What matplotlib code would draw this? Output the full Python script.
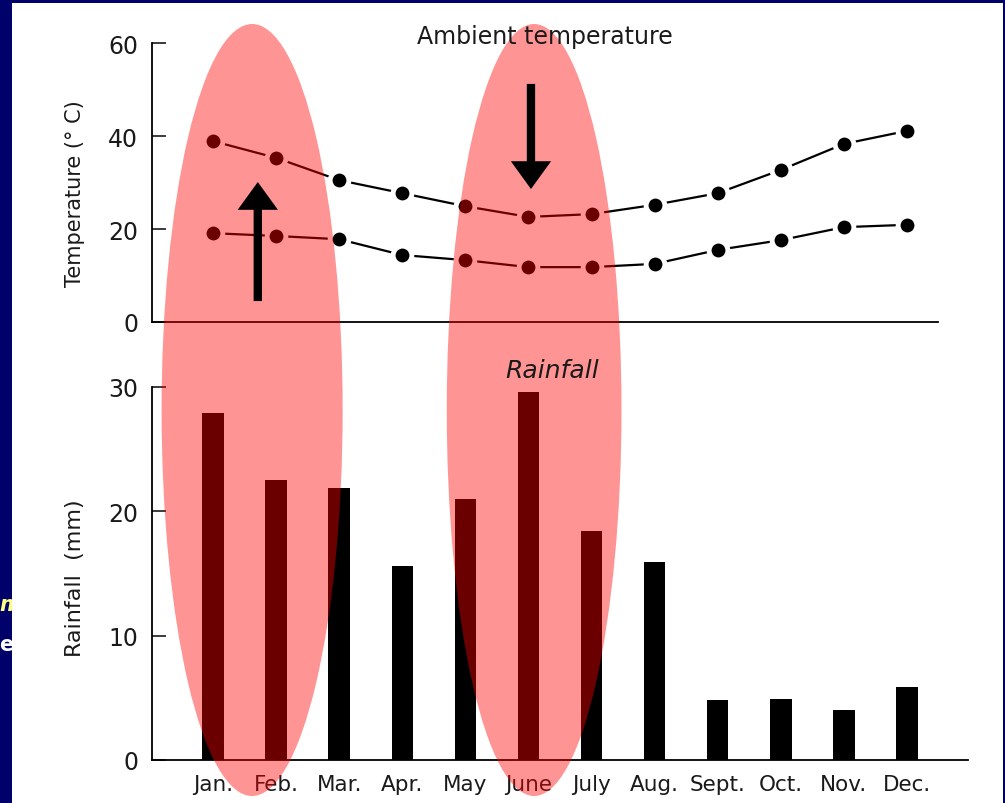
import numpy as np
import matplotlib
matplotlib.use('Agg')
import matplotlib.pyplot as plt
import matplotlib.transforms as mtransforms
from matplotlib.patches import Ellipse, Rectangle, FancyArrowPatch, ArrowStyle

# Data
months = ['Jan.', 'Feb.', 'Mar.', 'Apr.', 'May', 'June', 'July',
          'Aug.', 'Sept.', 'Oct.', 'Nov.', 'Dec.']
temp_max = [38.9, 35.3, 30.5, 27.7, 24.9, 22.6, 23.2, 25.2, 27.7, 32.7, 38.3, 41.1]
temp_min = [19.1, 18.5, 17.8, 14.4, 13.3, 11.8, 11.8, 12.5, 15.5, 17.6, 20.4, 20.9]
rainfall = [27.9, 22.5, 21.9, 15.6, 21.0, 29.6, 18.4, 15.9, 4.8, 4.9, 4.0, 5.9]
temp_ticks = [0, 20, 40, 60]
rain_ticks = [0, 10, 20, 30]

# highlighted months (ellipse centre in month units, width in month units)
highlights = [(0.62, 2.87), (5.09, 2.77)]
# arrows: x (month units), start temp, end temp
arrows = [(0.71, 4.5, 30.1), (5.04, 51.2, 28.6)]

W, H = 1005, 804
NAVY = '#00006b'
INK = '#1a1a1a'
plt.rcParams['font.family'] = 'DejaVu Sans'

fig = plt.figure(figsize=(W / 100, H / 100), dpi=100, facecolor=NAVY)

# white slide area
fig.add_artist(Rectangle((12 / W, 0), (1003 - 12) / W, (H - 4) / H,
                         transform=fig.transFigure, facecolor='white',
                         edgecolor='none', zorder=-1))
# cut-off slide text on the left edge
fig.text(21 / W, 1 - 605 / H, 'm', color='#ffff80', fontsize=15, fontweight='bold',
         style='italic', ha='right', va='center', zorder=-2)
fig.text(23 / W, 1 - 645 / H, 'e)', color='white', fontsize=15, fontweight='bold',
         ha='right', va='center', zorder=-2)

x = np.arange(len(months))
x_left = (152 - 213) / 63.09

# Temperature panel
ax_t = fig.add_axes([152 / W, 1 - 323 / H, (938 - 152) / W, (323 - 44) / H])
ax_t.set_facecolor('none')
for tmp in (temp_max, temp_min):
    ax_t.plot(x, tmp, '-', color='black', lw=1.6, marker='o', markersize=13.5,
              markerfacecolor='black', markeredgecolor='white', markeredgewidth=3.5,
              clip_on=False, zorder=3)
ax_t.set_xlim(x_left, (938 - 213) / 63.09)
ax_t.set_ylim(0, 60)
ax_t.set_yticks(temp_ticks)
ax_t.set_xticks([])
ax_t.spines['top'].set_visible(False)
ax_t.spines['right'].set_visible(False)
ax_t.spines['left'].set_linewidth(1.3)
ax_t.spines['bottom'].set_linewidth(1.3)
ax_t.tick_params(axis='y', direction='in', length=10, width=1.2, pad=10,
                 labelsize=17, colors=INK)

# Rainfall panel
ax_r = fig.add_axes([152 / W, 1 - 761 / H, (968 - 152) / W, (761 - 388) / H])
ax_r.set_facecolor('none')
ax_r.bar(x, rainfall, width=0.34, color='black', zorder=3)
ax_r.set_xlim(x_left, (968 - 213) / 63.09)
ax_r.set_ylim(0, 30)
ax_r.set_yticks(rain_ticks)
ax_r.set_xticks(x)
ax_r.set_xticklabels(months)
ax_r.spines['top'].set_visible(False)
ax_r.spines['right'].set_visible(False)
ax_r.spines['left'].set_linewidth(1.3)
ax_r.spines['bottom'].set_linewidth(1.3)
ax_r.tick_params(axis='y', direction='in', length=10, width=1.2, pad=10,
                 labelsize=17, colors=INK)
ax_r.tick_params(axis='x', length=0, pad=10, labelsize=15.5, colors=INK)

# titles and axis labels
fig.text(545 / W, 1 - 37 / H, 'Ambient temperature', fontsize=17, ha='center',
         va='center', color=INK)
fig.text(552 / W, 1 - 371 / H, 'Rainfall', fontsize=18, style='italic',
         ha='center', va='center', color=INK)
fig.text(75 / W, 1 - 194 / H, 'Temperature (° C)', fontsize=15, rotation=90,
         ha='center', va='center', color=INK)
fig.text(75 / W, 1 - 578 / H, 'Rainfall  (mm)', fontsize=16, rotation=90,
         ha='center', va='center', color=INK)

# red highlight ellipses (x in month units, y in figure fraction)
blend = mtransforms.blended_transform_factory(ax_t.transData, fig.transFigure)
for cx, w in highlights:
    fig.add_artist(Ellipse((cx, 1 - 411 / H), w, 772 / H, transform=blend,
                           facecolor='red', alpha=0.42, edgecolor='none', zorder=2))

# black arrows on top
style = ArrowStyle('simple', head_length=1.0, head_width=1.45, tail_width=0.3)
for ax_x, y0, y1 in arrows:
    fig.add_artist(FancyArrowPatch((ax_x, y0), (ax_x, y1), transform=ax_t.transData,
                                   arrowstyle=style, mutation_scale=20,
                                   color='black', lw=0, shrinkA=0, shrinkB=0,
                                   zorder=4))

fig.savefig('out.png', dpi=100, facecolor=NAVY)
